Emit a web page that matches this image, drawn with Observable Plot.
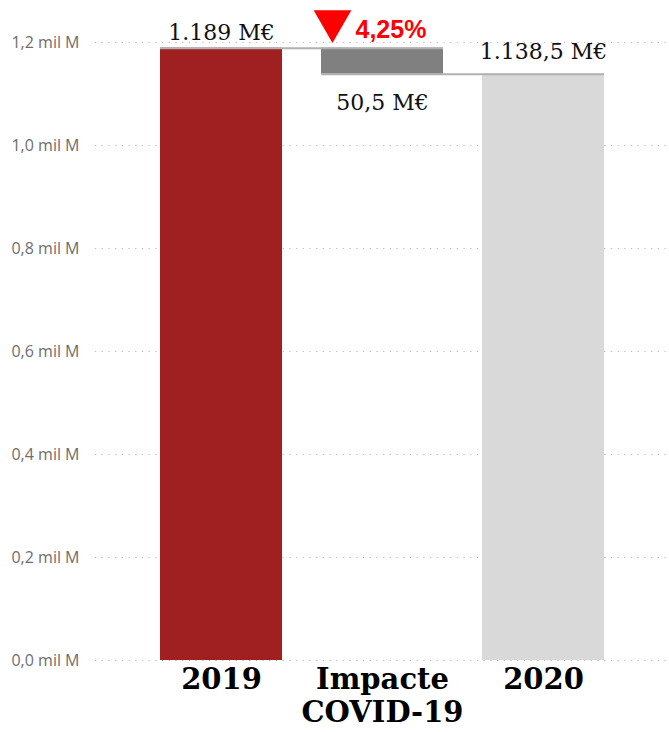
<!DOCTYPE html>
<html>
<head>
<meta charset="utf-8">
<script src="https://cdn.jsdelivr.net/npm/d3@7"></script>
<script src="https://cdn.jsdelivr.net/npm/@observablehq/plot@0.6"></script>
<style>
  html, body { margin: 0; padding: 0; background: #fff; }
</style>
</head>
<body>
<div id="chart"></div>
<script>
// Data (values in M€)
const categories = ["2019", "Impacte\nCOVID-19", "2020"];
const kinds = ["total", "change", "total"];
const values = [1189, -50.5, 1138.5];
const valueLabels = ["1.189 M€", "50,5 M€", "1.138,5 M€"];
const changePct = "4,25%";
const yTicks = [0, 200, 400, 600, 800, 1000, 1200];
const colors = ["#A01F20", "#808080", "#D9D9D9"];

// Build waterfall rows
let running = 0;
const rows = categories.map((c, i) => {
  let y1, y2;
  if (kinds[i] === "total") { y1 = 0; y2 = values[i]; running = values[i]; }
  else { y1 = running; y2 = running + values[i]; running = y2; }
  return {cat: c, y1: Math.min(y1, y2), y2: Math.max(y1, y2), label: valueLabels[i], color: colors[i], kind: kinds[i]};
});
const connectors = [
  {from: categories[0], to: categories[1], y: rows[0].y2},
  {from: categories[1], to: categories[2], y: rows[1].y1}
];

const serif = "DejaVu Serif";
const chart = Plot.plot({
  width: 669,
  height: 732,
  marginLeft: 95,
  marginRight: 0,
  marginTop: 42,
  marginBottom: 72,
  style: {background: "#fff"},
  x: {domain: categories, paddingInner: 0.242, paddingOuter: 0.40, axis: null},
  y: {domain: [0, 1200], axis: null},
  marks: [
    Plot.gridY(yTicks, {stroke: "#b8b8b8", strokeOpacity: 1, strokeDasharray: "1.2,5.5"}),
    Plot.axisY(yTicks, {
      tickSize: 0, tickPadding: 16, fontSize: 16, fontFamily: "Open Sans", fill: "#6e6e6e",
      tickFormat: d => (d / 1000).toFixed(1).replace(".", ",") + " mil M", label: null
    }),
    Plot.barY(rows, {x: "cat", y1: "y1", y2: "y2", fill: "color"}),
    Plot.ruleY(connectors, {x1: "from", x2: "to", y: "y", stroke: "#b0b0b0", strokeWidth: 2}),
    // value labels
    Plot.text([rows[0]], {x: "cat", y: "y2", text: "label", lineAnchor: "bottom", dy: -8, fontSize: 22, fontFamily: serif, fill: "#111"}),
    Plot.text([rows[2]], {x: "cat", y: "y2", text: "label", lineAnchor: "bottom", dy: -15, fontSize: 22, fontFamily: serif, fill: "#111"}),
    Plot.text([rows[1]], {x: "cat", y: "y1", text: "label", lineAnchor: "bottom", dy: 36, fontSize: 22, fontFamily: serif, fill: "#111"}),
    // percentage change
    Plot.dot([rows[1]], {x: "cat", y: "y2", symbol: "triangle", rotate: 180, r: 14, fill: "#FF0000", stroke: "none", dx: -50, dy: -27}),
    Plot.text([rows[1]], {x: "cat", y: "y2", text: () => changePct, textAnchor: "start", lineAnchor: "bottom", dx: -27, dy: -10, fontSize: 25, fontWeight: "bold", fontFamily: "Liberation Sans", fill: "#FF0000"}),
    // category labels
    Plot.text(rows, {x: "cat", text: "cat", frameAnchor: "bottom", lineAnchor: "top", dy: 5, lineHeight: 1.13, fontSize: 29, fontWeight: "bold", fontFamily: serif, fill: "#000"})
  ]
});
document.getElementById("chart").appendChild(chart);
</script>
</body>
</html>
